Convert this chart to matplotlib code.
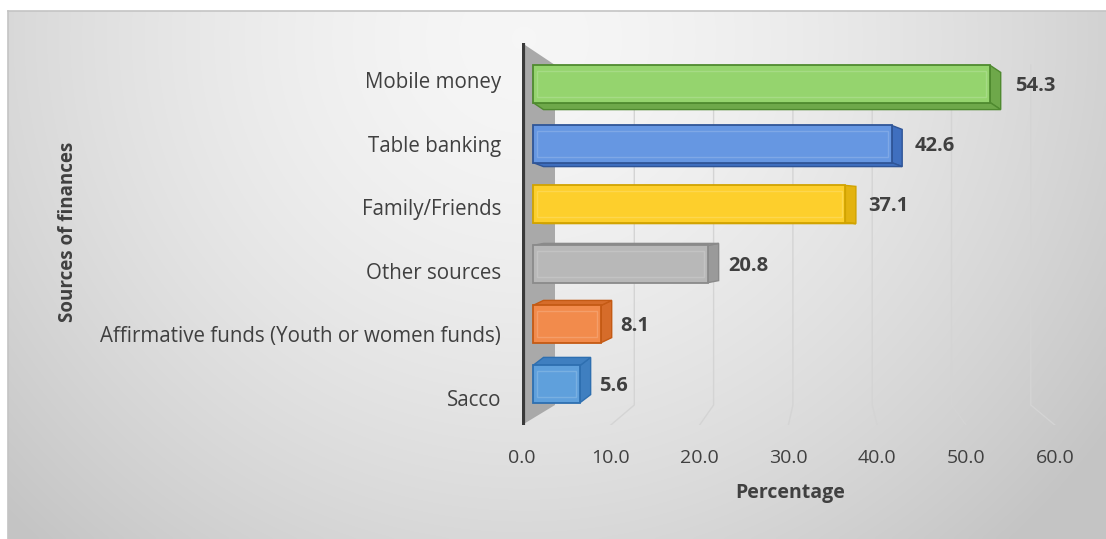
import numpy as np
import matplotlib
matplotlib.use("Agg")
import matplotlib.pyplot as plt
from matplotlib.patches import Polygon
from matplotlib.ticker import FixedLocator, FormatStrFormatter

# ---- data -------------------------------------------------------------
categories = ["Sacco", "Affirmative funds (Youth or women funds)", "Other sources",
              "Family/Friends", "Table banking", "Mobile money"]
percentages = [5.6, 8.1, 20.8, 37.1, 42.6, 54.3]
x_ticks = [0, 10, 20, 30, 40, 50, 60]

front_colors = ["#5fa0dc", "#f28b4c", "#b8b8b8", "#fdcf2c", "#6697e2", "#95d46e"]
edge_colors = ["#2e6fb0", "#c45a14", "#8a8a8a", "#d1a300", "#2f5597", "#4f8a2f"]
side_colors = ["#3f7fc0", "#d66c2a", "#9a9a9a", "#e3b310", "#3f6fbf", "#6ea84a"]

TEXT = "#404040"
FONT = ["Open Sans", "DejaVu Sans"]
plt.rcParams["font.family"] = FONT

W, H, DPI = 1106, 539, 100
fig = plt.figure(figsize=(W / DPI, H / DPI), dpi=DPI)
fig.patch.set_facecolor("white")

# ---- chart area background: soft radial gray gradient ----------------
bg = fig.add_axes([8 / W, 0, 1 - 8 / W, 1 - 11 / H], zorder=-10)
gx, gy = np.meshgrid(np.linspace(0, 1, 400), np.linspace(0, 1, 200))
dist = np.sqrt(((gx - 0.47) / 0.62) ** 2 + ((gy - 0.05) / 1.25) ** 2)
shade = np.clip(0.965 - 0.18 * dist ** 1.6, 0.77, 0.97)
bg.imshow(np.dstack([shade] * 3), aspect="auto", extent=(0, 1, 1, 0),
          interpolation="bicubic")
bg.set_xticks([])
bg.set_yticks([])
for s in bg.spines.values():
    s.set_color("#c4c4c4")
    s.set_linewidth(1.2)
bg.spines["bottom"].set_visible(False)
bg.spines["right"].set_visible(False)

# ---- main axes (front plane of the bars) -----------------------------
PX0, PXU = 533.0, 8.42       # pixel of value 0 and pixels per unit on the bar front
PY0, PYU = 384.0, 60.0       # pixel of first category centre and spacing
ax_left_px, ax_right_px, ax_top_px, ax_bot_px = 522, 1062, 43, 425
ax = fig.add_axes([ax_left_px / W, 1 - ax_bot_px / H,
                   (ax_right_px - ax_left_px) / W, (ax_bot_px - ax_top_px) / H])
ax.set_xlim((ax_left_px - PX0) / PXU, (ax_right_px - PX0) / PXU)
ax.set_ylim((PY0 - ax_bot_px) / PYU, (PY0 - ax_top_px) / PYU)
ax.patch.set_visible(False)
for s in ax.spines.values():
    s.set_visible(False)
ax.set_xticks([])
ax.set_yticks([])


def back_x(v):
    # value position on the back wall
    return (555 + 7.93 * v - PX0) / PXU


def floor_x(v):
    # value position along the front edge of the floor
    return (522 + 8.88 * v - PX0) / PXU


def py(p):
    return (PY0 - p) / PYU


wall_top, wall_bottom, floor_front = py(65), py(405), py(425)

# side wall of the category axis
x_wall_l = (ax_left_px - PX0) / PXU
x_wall_r = back_x(0)
ax.add_patch(Polygon([(x_wall_l, py(43)), (x_wall_r, wall_top), (x_wall_r, wall_bottom),
                      (x_wall_l, floor_front)], closed=True,
                     facecolor="#a9a9a9", edgecolor="none", zorder=1))
ax.plot([x_wall_l + 0.12, x_wall_l + 0.12], [py(43), floor_front], color="#3a3a3a",
        lw=3, solid_capstyle="butt", zorder=2)

# gridlines on the back wall and floor
for v in x_ticks[1:]:
    ax.plot([back_x(v), back_x(v), floor_x(v)], [wall_top, wall_bottom, floor_front],
            color="#d4d4d4", lw=1.0, zorder=1.5)

# ---- 3D bars ----------------------------------------------------------
bar_h = 0.62
dx = 10.5 / PXU
for i, (v, fc, ec, sc) in enumerate(zip(percentages, front_colors, edge_colors, side_colors)):
    dy = (8 - 3.0 * i) / PYU        # perspective: top faces low, bottom faces high
    y0, y1 = i - bar_h / 2, i + bar_h / 2
    # right side face
    ax.add_patch(Polygon([(v, y0), (v + dx, y0 + dy), (v + dx, y1 + dy), (v, y1)],
                         closed=True, facecolor=sc, edgecolor=ec, lw=1.0, zorder=3))
    if dy > 0:
        face = [(0, y1), (v, y1), (v + dx, y1 + dy), (dx, y1 + dy)]
    else:
        face = [(0, y0), (v, y0), (v + dx, y0 + dy), (dx, y0 + dy)]
    ax.add_patch(Polygon(face, closed=True, facecolor=sc, edgecolor=ec, lw=1.0, zorder=3))

ax.barh(range(len(percentages)), percentages, height=bar_h, color=front_colors,
        edgecolor=edge_colors, linewidth=1.3, zorder=4)
# inner bevel highlight
ax.barh(range(len(percentages)), [p - 0.9 for p in percentages], left=0.45,
        height=bar_h * 0.72, color="none", edgecolor=[(1, 1, 1, 0.17)] * 6,
        linewidth=1.0, zorder=4.5)

# value labels
for i, v in enumerate(percentages):
    ax.text(2.14 + 1.014 * v, i - 0.04, f"{v:.1f}", ha="left", va="center",
            fontsize=14.5, fontweight="bold", color=TEXT, zorder=6)

# ---- axes with the perspective tick scales ----------------------------
secx = ax.secondary_xaxis("bottom", functions=(lambda x: (x * PXU + PX0 - 522) / 8.88,
                                               lambda v: floor_x(v)))
secx.xaxis.set_major_locator(FixedLocator(x_ticks))
secx.xaxis.set_major_formatter(FormatStrFormatter("%.1f"))
secx.tick_params(length=0, pad=17, labelsize=14, labelcolor=TEXT)
secx.spines["bottom"].set_visible(False)

LY0, LYU = 398.0, 63.6
secy = ax.secondary_yaxis("left", functions=(lambda i: (LY0 - PY0 + PYU * i) / LYU,
                                             lambda j: (LYU * j - LY0 + PY0) / PYU))
secy.yaxis.set_major_locator(FixedLocator(range(len(categories))))
secy.set_yticklabels(categories)
secy.tick_params(length=0, pad=15, labelsize=14.8, labelcolor=TEXT)
secy.spines["left"].set_visible(False)

fig.text(790 / W, 1 - 493 / H, "Percentage", ha="center", va="center",
         fontsize=14, fontweight="bold", color=TEXT)
fig.text(68 / W, 1 - 232 / H, "Sources of finances", ha="center", va="center",
         rotation=90, fontsize=13.5, fontweight="bold", color=TEXT)

fig.savefig("out.png", dpi=DPI)
